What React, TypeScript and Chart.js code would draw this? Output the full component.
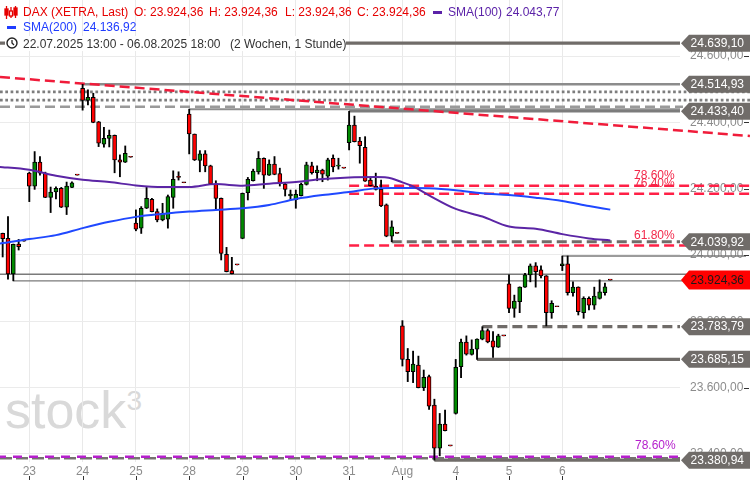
import React, { useEffect, useRef } from 'react';
import { Chart, registerables } from 'chart.js';

Chart.register(...registerables);

const FONT = '"Liberation Sans", Arial, sans-serif';
Chart.defaults.font.family = FONT;
Chart.defaults.font.size = 12;

// ---- axis data ----
const dayLabels = ['23', '24', '25', '28', '29', '30', '31', 'Aug', '4', '5', '6'];
const dayStartIdx = [5, 15, 25, 35, 45, 55, 65, 75, 85, 95, 105];
const yTickValues = [23400, 23600, 23800, 24000, 24200, 24400, 24600];

// ---- hourly candles (DAX XETRA), 22.07.2025 13:00 - 06.08.2025 18:00 ----
const opens = [
  24065, 24050, 23943, 24033, 24042,
  24247, 24208, 24280, 24247, 24174, 24190, 24201, 24144, 24204, 24241,
  24503, 24466, 24476, 24402, 24334, 24352, 24361, 24287, 24280, 24295,
  24096, 24081, 24141, 24168, 24131, 24106, 24108, 24174, 24234, 24218,
  24425, 24365, 24285, 24305, 24269, 24214, 24171, 24002, 23953, 23970,
  24050, 24188, 24224, 24251, 24292, 24241, 24274, 24246, 24214, 24178,
  24167, 24179, 24213, 24269, 24248, 24256, 24238, 24292, 24268, 24262,
  24339, 24392, 24344, 24325, 24226, 24208, 24198, 24151, 24057, 24065,
  23786, 23685, 23648, 23668, 23600, 23633, 23547, 23417, 23490, 23424,
  23522, 23663, 23737, 23700, 23716, 23746, 23772, 23741, 23722, 23756,
  23913, 23839, 23859, 23903, 23940, 23967, 23955, 23937, 23826, 23844,
  23968, 23973, 23886, 23903, 23826, 23869, 23849, 23869, 23886, 23924.36,
];
const highs = [
  24066, 24116, 24033, 24047, 24042,
  24250, 24312, 24297, 24250, 24205, 24206, 24204, 24220, 24221, 24241,
  24514.93, 24498, 24488, 24403, 24385, 24377, 24362, 24302, 24329, 24295,
  24136, 24146, 24204, 24171, 24139, 24156, 24181, 24254, 24251, 24218,
  24440, 24365, 24315, 24315, 24271, 24224, 24172, 24023, 23993, 23970,
  24187, 24234, 24259, 24312, 24293, 24287, 24297, 24262, 24216, 24196,
  24196, 24217, 24280, 24280, 24269, 24259, 24292, 24302, 24292, 24262,
  24433.4, 24419, 24355, 24357, 24235, 24247, 24226, 24154, 24103, 24065,
  23802, 23718, 23710, 23695, 23653, 23638, 23565, 23522, 23532, 23424,
  23685, 23746, 23756, 23744, 23747, 23783.79, 23777, 23769, 23761, 23756,
  23940, 23879, 23904, 23945, 23973, 23977, 23967, 23938, 23862, 23844,
  23997, 23997, 23919, 23904, 23874, 23874, 23903, 23925, 23915, 23924.36,
];
const lows = [
  23994, 23927, 23922, 24015, 24042,
  24161, 24198, 24241, 24173, 24128, 24169, 24143, 24122, 24203, 24241,
  24437, 24453, 24399, 24327, 24325, 24326, 24248, 24236, 24279, 24295,
  24073, 24065, 24140, 24130, 24100, 24103, 24081, 24141, 24226, 24218,
  24305, 24285, 24251, 24251, 24213, 24138, 23985, 23949, 23943, 23970,
  24049, 24166, 24223, 24244, 24201, 24240, 24242, 24208, 24178, 24166,
  24141, 24178, 24211, 24244, 24224, 24221, 24226, 24251, 24259, 24262,
  24317, 24341, 24277, 24222, 24208, 24196, 24146, 24055, 24039.92, 24065,
  23665, 23618, 23615, 23599, 23591, 23534, 23380.94, 23394, 23469, 23424,
  23520, 23630, 23698, 23698, 23685.15, 23744, 23735, 23691, 23721, 23756,
  23826, 23812, 23826, 23902, 23919, 23903, 23931, 23786, 23809, 23844,
  23953, 23879, 23876, 23819, 23809, 23834, 23836, 23867, 23879, 23924.36,
];
const closes = [
  24049, 23943, 24032, 24025, 24042,
  24208, 24280, 24247, 24174, 24190, 24201, 24144, 24208, 24218, 24241,
  24466, 24476, 24400, 24337, 24352, 24361, 24287, 24280, 24307, 24295,
  24078, 24141, 24171, 24131, 24106, 24126, 24176, 24228, 24234, 24218,
  24365, 24287, 24305, 24269, 24214, 24171, 24005, 23950, 23944, 23970,
  24186, 24228, 24253, 24292, 24241, 24274, 24243, 24216, 24198, 24184,
  24183, 24213, 24272, 24248, 24256, 24244, 24287, 24266, 24270, 24262,
  24392, 24342, 24330, 24223, 24209, 24198, 24148, 24057, 24085, 24065,
  23685, 23648, 23671, 23600, 23631, 23544, 23417, 23490, 23470, 23424,
  23661, 23737, 23701, 23716, 23746, 23772, 23738, 23722, 23756, 23756,
  23839, 23861, 23903, 23940, 23967, 23950, 23937, 23826, 23854, 23844,
  23973, 23886, 23903, 23829, 23869, 23849, 23876, 23889, 23904, 23924.36,
];

// ---- moving averages (sampled at candle indices) ----
const smaIdx = [-1, 0, 5, 10, 15, 20, 25, 30, 35, 40, 45, 50, 55, 60, 65, 70, 73, 75, 77, 80, 85, 90, 95, 100, 105, 110, 114];
const sma100 = [24266, 24265, 24257, 24239, 24227, 24220, 24210, 24205, 24205, 24214, 24209, 24215, 24220, 24229, 24234, 24235, 24231, 24219, 24207, 24180, 24139, 24116, 24086, 24079, 24063, 24050, 24043.77];
const sma200 = [24034, 24036, 24048, 24060, 24081, 24100, 24115, 24124, 24131, 24136, 24141, 24151, 24169, 24181, 24190, 24201, 24202, 24202, 24202, 24201, 24195, 24186, 24181, 24173, 24163, 24148, 24136.92];

// ---- drawn levels ----
const tagLevels = [24639.10, 24514.93, 24433.40, 24039.92, 23783.79, 23685.15, 23380.94];
const tagStartIdx = [-0.5, 15, 65, 73, 90, 89, 81];
const dottedLevels = [24492, 24467];
const dashedTopLevel = 24447;
const swingHighLevel = 24440;
const swingHighIdx = 35;
const thinLevels = [23997, 23942, 23922];
const thinStartIdx = [105, -0.5, 2];
const fibLevels = [24209, 24185, 24029];
const fibLabels = ['78.60%', '76.40%', '61.80%'];
const fibStartIdx = 65;
const fibLowLevel = 23391;
const fibLowLabel = '78.60%';
const lowDashLevel = 23387;
const trendIdx = [-0.5, 140.2];
const trendValues = [24537, 24359];

const fmt = (v: number) => {
  const [a, b] = v.toFixed(2).split('.');
  return a.replace(/\B(?=(\d{3})+(?!\d))/g, '.') + ',' + b;
};

const GRAY = '#706c69';

const overlayPlugin = {
  id: 'overlay',
  beforeDatasetsDraw(chart: any) {
    const { ctx, chartArea, scales } = chart;
    const xs = scales.x;
    const ys = scales.y;
    const W = chart.width;
    const R = chartArea.right;
    const px = (i: number) => xs.getPixelForValue(i);
    const py = (v: number) => ys.getPixelForValue(v);
    const seg = (x0: number, y0: number, x1: number, y1: number, color: string, width: number, dash: number[] = [], offset = 0) => {
      ctx.save();
      ctx.beginPath();
      ctx.strokeStyle = color;
      ctx.lineWidth = width;
      ctx.setLineDash(dash);
      ctx.lineDashOffset = offset;
      ctx.moveTo(x0, y0);
      ctx.lineTo(x1, y1);
      ctx.stroke();
      ctx.restore();
    };
    const hl = (v: number, i0: number, xEnd: number, color: string, width: number, dash: number[] = [], offset = 0) => {
      const y = py(v);
      seg(px(i0), y, xEnd, y, color, width, dash, offset);
    };

    // dotted & dashed resistance cluster
    dottedLevels.forEach((v) => hl(v, -0.5, W, '#7d7d7d', 2.7, [2.7, 2.6]));
    hl(dashedTopLevel, -0.5, R + 3, '#9a9a9a', 2.5, [10, 5]);
    hl(swingHighLevel, swingHighIdx, R, '#8e8e8e', 2);

    // thin levels
    thinLevels.forEach((v, k) => hl(v, thinStartIdx[k], W - 4, '#7a7a7a', 1.4));

    // price-tag levels
    tagLevels.forEach((v, k) => {
      const dashed = k === 3 || k === 4;
      const color = k === 1 ? '#8c8c8c' : k === 2 ? '#7c7c7c' : GRAY;
      const width = k === 1 || k === 2 ? 2.5 : 3.2;
      hl(v, tagStartIdx[k], R, color, width, dashed ? [10, 5] : []);
    });

    // bottom level pair
    hl(lowDashLevel, -0.5, R, '#767270', 2.5, [12, 4]);
    hl(fibLowLevel, -0.5, R, '#b51fcc', 2.5, [9, 7], 3);

    // fibonacci
    fibLevels.forEach((v) => hl(v, fibStartIdx, W, '#ff2046', 2.5, [10, 5]));

    // trend line
    seg(px(trendIdx[0]), py(trendValues[0]), px(trendIdx[1]), py(trendValues[1]), '#f01c3a', 2.5, [10, 5]);
  },
  afterDraw(chart: any) {
    const { ctx, chartArea, scales } = chart;
    const xs = scales.x;
    const ys = scales.y;
    const W = chart.width;
    const R = chartArea.right;
    const py = (v: number) => ys.getPixelForValue(v);

    ctx.save();
    ctx.font = `12px ${FONT}`;
    ctx.textBaseline = 'middle';

    // fib labels
    ctx.textAlign = 'left';
    fibLevels.forEach((v, k) => {
      ctx.fillStyle = '#f2284a';
      ctx.fillText(fibLabels[k], 634, py(v) - 10);
    });
    ctx.fillStyle = '#b51fcc';
    ctx.fillText(fibLowLabel, 635, py(fibLowLevel) - 11);

    // axis tick dashes
    ctx.strokeStyle = '#333';
    ctx.lineWidth = 1;
    yTickValues.forEach((v) => {
      const y = Math.round(py(v)) + 0.5;
      ctx.beginPath();
      ctx.moveTo(744, y);
      ctx.lineTo(749, y);
      ctx.stroke();
    });
    dayStartIdx.forEach((i) => {
      const x = Math.round(xs.getPixelForValue(i)) + 0.5;
      ctx.beginPath();
      ctx.moveTo(x, 476);
      ctx.lineTo(x, 480);
      ctx.stroke();
    });

    // price tags
    const tag = (v: number, bg: string, fg: string, h: number) => {
      const y = py(v);
      ctx.beginPath();
      ctx.moveTo(R + 1, y);
      ctx.lineTo(R + 9, y - h / 2);
      ctx.lineTo(W, y - h / 2);
      ctx.lineTo(W, y + h / 2);
      ctx.lineTo(R + 9, y + h / 2);
      ctx.closePath();
      ctx.fillStyle = bg;
      ctx.fill();
      ctx.fillStyle = fg;
      ctx.textAlign = 'right';
      ctx.fillText(fmt(v), 744, y + 0.5);
    };
    tagLevels.forEach((v) => tag(v, GRAY, '#ffffff', 17));
    tag(closes[closes.length - 1], '#ff0000', '#1a1a1a', 19);
    ctx.restore();
  },
};

const txt = (left: number, top: number, color: string): React.CSSProperties => ({
  position: 'absolute',
  left,
  top,
  color,
  fontFamily: FONT,
  fontSize: 12,
  lineHeight: '14px',
  whiteSpace: 'nowrap',
});

export default function App() {
  const ref = useRef<HTMLCanvasElement>(null);

  useEffect(() => {
    const canvas = ref.current;
    if (!canvas) return;
    const idx = opens.map((_, i) => i);
    const chart = new Chart(canvas, {
      type: 'bar',
      data: {
        datasets: [
          {
            type: 'line',
            label: 'SMA(100)',
            data: smaIdx.map((x, k) => ({ x, y: sma100[k] })),
            borderColor: '#5b25a5',
            borderWidth: 2,
            pointRadius: 0,
            cubicInterpolationMode: 'monotone',
            order: 0,
          } as any,
          {
            type: 'line',
            label: 'SMA(200)',
            data: smaIdx.map((x, k) => ({ x, y: sma200[k] })),
            borderColor: '#1f48ff',
            borderWidth: 2,
            pointRadius: 0,
            cubicInterpolationMode: 'monotone',
            order: 0,
          } as any,
          {
            type: 'bar',
            label: 'body',
            data: idx.map((i) => ({ x: i, y: [opens[i], closes[i]] })),
            backgroundColor: idx.map((i) => (closes[i] > opens[i] ? '#008a00' : '#ff0000')),
            borderColor: '#000000',
            borderWidth: 1,
            borderSkipped: false,
            barThickness: 4,
            grouped: false,
            minBarLength: 1,
            order: 1,
          } as any,
          {
            type: 'bar',
            label: 'wick',
            data: idx.map((i) => ({ x: i, y: [lows[i], highs[i]] })),
            backgroundColor: '#000000',
            borderWidth: 0,
            barThickness: 1.2,
            grouped: false,
            order: 2,
          } as any,
        ],
      },
      options: {
        responsive: false,
        animation: false,
        events: [],
        layout: { padding: 0 },
        plugins: { legend: { display: false }, tooltip: { enabled: false } },
        scales: {
          x: {
            type: 'linear',
            min: -0.5,
            max: 127.08,
            offset: false,
            position: 'bottom',
            grid: { color: '#e9e9e9', drawTicks: false, offset: false },
            border: { display: false },
            ticks: {
              color: '#8c8c8c',
              padding: 2,
              maxRotation: 0,
              autoSkip: false,
              callback: (v: any) => {
                const k = dayStartIdx.indexOf(Number(v));
                return k >= 0 ? dayLabels[k] : '';
              },
            },
            afterBuildTicks: (s: any) => {
              s.ticks = dayStartIdx.map((value) => ({ value }));
            },
            afterFit: (s: any) => {
              s.height = 18;
              s.paddingLeft = 0;
              s.paddingRight = 0;
            },
          } as any,
          y: {
            type: 'linear',
            position: 'right',
            min: 23375.5,
            max: 24769.3,
            grid: { color: '#ebebeb', drawTicks: false },
            border: { display: false },
            ticks: {
              color: '#8c8c8c',
              padding: 10,
              crossAlign: 'near',
              callback: (v: any) => fmt(Number(v)),
            },
            afterBuildTicks: (s: any) => {
              s.ticks = yTickValues.map((value) => ({ value }));
            },
            afterFit: (s: any) => {
              s.width = 70;
              s.paddingTop = 0;
              s.paddingBottom = 0;
            },
          } as any,
        },
      },
      plugins: [overlayPlugin],
    });
    return () => chart.destroy();
  }, []);

  const last = closes.length - 1;
  const red = '#e60000';
  const purple = '#5b22a8';
  const blue = '#1f3cff';

  return (
    <div style={{ position: 'fixed', left: 0, top: 0, width: 750, height: 480, background: '#fff', overflow: 'hidden' }}>
      <div style={{ position: 'absolute', left: 5, top: 380, color: '#d9d9d9', fontFamily: FONT, whiteSpace: 'nowrap' }}>
        <span style={{ fontSize: 52, lineHeight: '60px' }}>stock</span>
        <span style={{ fontSize: 28, position: 'relative', top: -18 }}>3</span>
      </div>
      <canvas ref={ref} width={750} height={480} style={{ position: 'absolute', left: 0, top: 0, display: 'block' }} />

      {/* row 1 */}
      <svg style={{ position: 'absolute', left: 4, top: 6 }} width={14} height={13} viewBox="0 0 14 13">
        <g stroke={red} strokeWidth={1.3} fill="none">
          <line x1="2.5" y1="0" x2="2.5" y2="13" />
          <rect x="1" y="3" width="3" height="6" fill={red} />
          <line x1="7" y1="1" x2="7" y2="12" />
          <rect x="5.5" y="5" width="3" height="5" fill="#fff" />
          <line x1="11.5" y1="0" x2="11.5" y2="12" />
          <rect x="10" y="2" width="3" height="7" fill={red} />
        </g>
      </svg>
      <span style={txt(23, 5, red)}>DAX (XETRA, Last)</span>
      <span style={txt(134, 5, red)}>O: {fmt(opens[last])}</span>
      <span style={txt(209, 5, red)}>H: {fmt(highs[last])}</span>
      <span style={txt(285, 5, red)}>L: {fmt(lows[last])}</span>
      <span style={txt(357, 5, red)}>C: {fmt(closes[last])}</span>
      <div style={{ position: 'absolute', left: 433, top: 11, width: 9, height: 3, background: purple }} />
      <span style={txt(448, 5, purple)}>SMA(100)</span>
      <span style={txt(506, 5, purple)}>{fmt(sma100[sma100.length - 1])}</span>

      {/* row 2 */}
      <div style={{ position: 'absolute', left: 7, top: 26, width: 9, height: 3, background: blue }} />
      <span style={txt(23, 20, blue)}>SMA(200)</span>
      <span style={txt(83, 20, blue)}>{fmt(sma200[sma200.length - 1])}</span>

      {/* row 3 */}
      <div style={{ position: 'absolute', left: 5, top: 36, width: 341, height: 15, background: '#fff' }} />
      <svg style={{ position: 'absolute', left: 6, top: 37 }} width={12} height={12} viewBox="0 0 12 12">
        <circle cx="6" cy="6" r="5" stroke="#222" strokeWidth="1.4" fill="none" />
        <path d="M6 3 V6 L8 8" stroke="#222" strokeWidth="1.3" fill="none" />
      </svg>
      <span style={txt(23, 37, '#333')}>22.07.2025 13:00 - 06.08.2025 18:00</span>
      <span style={txt(230, 37, '#333')}>(2 Wochen, 1 Stunde)</span>
    </div>
  );
}
